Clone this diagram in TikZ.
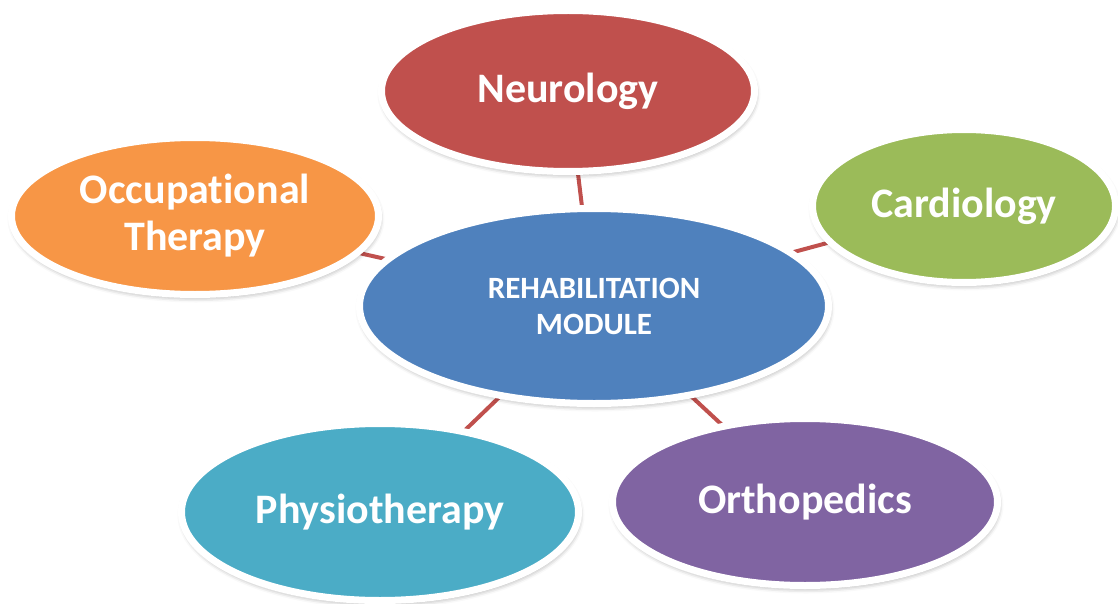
\documentclass[tikz,border=0pt]{standalone}
\usepackage{fontspec}
\setmainfont{Carlito}[Ligatures=NoCommon]
\usetikzlibrary{shapes.geometric,shadows.blur,backgrounds}
\definecolor{neurofill}{HTML}{C0504D}
\definecolor{cardiofill}{HTML}{9BBB59}
\definecolor{occufill}{HTML}{F79646}
\definecolor{hubfill}{HTML}{4F81BD}
\definecolor{physiofill}{HTML}{4BACC6}
\definecolor{orthofill}{HTML}{8064A2}
\definecolor{linkred}{HTML}{C0504D}
\tikzset{
  bubble/.style={ellipse, draw=white, line width=7pt, inner sep=0pt,
    text=white, align=center,
    font=\bfseries\fontsize{42}{47}\selectfont,
    blur shadow={shadow xshift=1pt, shadow yshift=-3pt,
      shadow blur radius=5pt, shadow opacity=40}},
  hubtext/.style={font=\bfseries\fontsize{31}{36}\selectfont},
  link/.style={draw=linkred, line width=4pt},
}
\begin{document}
\begin{tikzpicture}[x=1pt, y=-1pt]
  \useasboundingbox (0,0) rectangle (1118,604);

  % hub and the five specialities around it
  \node[bubble, fill=hubfill, hubtext, minimum width=469pt, minimum height=195pt]
    (hub) at (594,306) {REHABILITATION\\MODULE};
  \node[bubble, fill=neurofill, minimum width=373pt, minimum height=161pt]
    (neuro) at (568,91) {Neurology};
  \node[bubble, fill=cardiofill, minimum width=303pt, minimum height=153pt]
    (cardio) at (964,206) {Cardiology};
  \node[bubble, fill=occufill, minimum width=367pt, minimum height=157pt]
    (occu) at (195,216) {Occupational\\Therapy};
  \node[bubble, fill=physiofill, minimum width=397pt, minimum height=177pt]
    (physio) at (380,512) {Physiotherapy};
  \node[bubble, fill=orthofill, minimum width=385pt, minimum height=167pt]
    (ortho) at (805,502) {Orthopedics};

  % spokes, hidden under the bubbles except in the gaps
  \begin{pgfonlayer}{background}
    \draw[link] (hub.center) -- (neuro.center);
    \draw[link] (hub.center) -- (cardio.center);
    \draw[link] (hub.center) -- (occu.center);
    \draw[link] (hub.center) -- (physio.center);
    \draw[link] (hub.center) -- (ortho.center);
  \end{pgfonlayer}
\end{tikzpicture}
\end{document}
